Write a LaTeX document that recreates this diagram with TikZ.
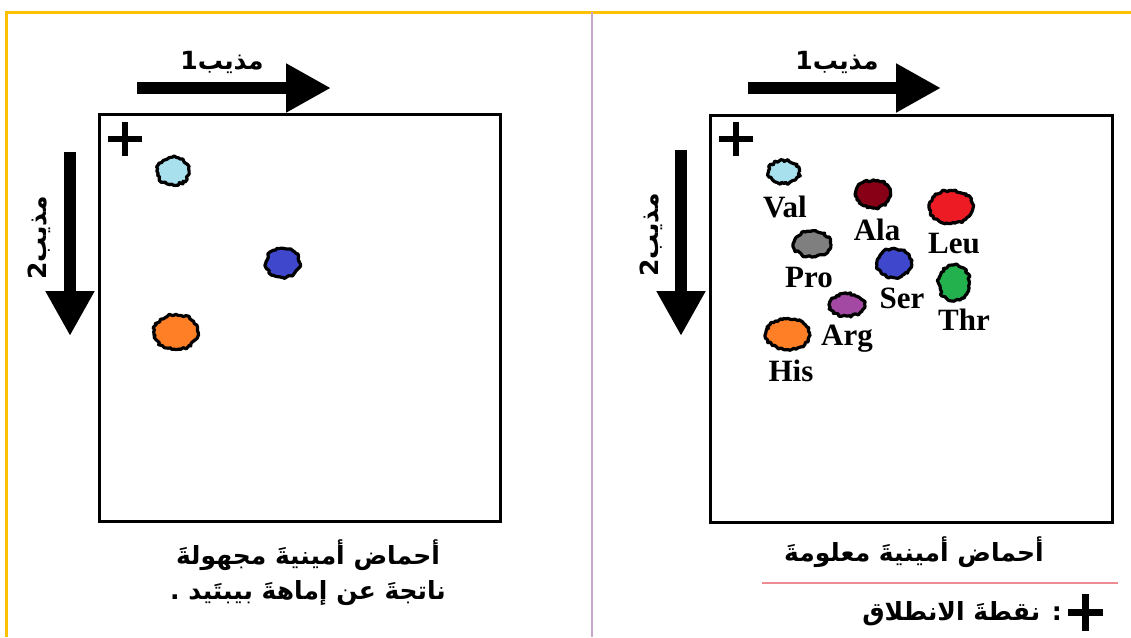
\documentclass[tikz,border=0pt]{standalone}
\usepackage{fontspec}
\setmainfont{Liberation Serif}
\newfontfamily\arabicfont[Script=Arabic]{DejaVu Sans}
\TeXXeTstate=1
\usetikzlibrary{arrows.meta,decorations.pathmorphing,shapes.geometric}
\definecolor{gold}{HTML}{FFC000}
\definecolor{divider}{HTML}{C9A6CC}
\definecolor{pinkline}{HTML}{EE8C96}
\definecolor{cyanspot}{HTML}{A8E0EE}
\definecolor{bluespot}{HTML}{3F48CC}
\definecolor{orangespot}{HTML}{FF7F27}
\definecolor{alaspot}{HTML}{880015}
\definecolor{leuspot}{HTML}{ED1C24}
\definecolor{prospot}{HTML}{7F7F7F}
\definecolor{thrspot}{HTML}{22B14C}
\definecolor{argspot}{HTML}{A349A4}
\begin{document}
\pgfmathsetseed{7}
\begin{tikzpicture}[x=1pt,y=-1pt,
  frame/.style={draw=black,line width=3pt},
  bigarrow/.style={line width=12.5pt,-{Triangle[length=45pt,width=46pt]}},
  solvent/.style={font=\arabicfont\bfseries\fontsize{25}{28}\selectfont,inner sep=0pt},
  caption/.style={font=\arabicfont\bfseries\fontsize{25}{35}\selectfont,inner sep=0pt,align=center},
  blob/.style={ellipse,draw=black,line width=3.2pt,inner sep=0pt,line join=round,
    decorate,decoration={random steps,segment length=2.2pt,amplitude=1.3pt}},
  aa/.style={font=\bfseries\fontsize{31}{34}\selectfont,inner sep=0pt,anchor=base,text=black},
  startmark/.pic={\draw[line width=5.5pt] (-17,0) -- (17,0) (0,-17) -- (0,17);}
]
\useasboundingbox (0,0) rectangle (1131,637);
% page frame
\draw[gold,line width=3pt] (6,637) coordinate (fb) -- (6,12) coordinate (fc) -- (1131,12) coordinate (fr);
\draw[divider,line width=2.5pt] (592,12) coordinate (dt) -- (592,637) coordinate (db);

% ---------- left panel ----------
\coordinate (L1) at (99,114);
\coordinate (L2) at (500,521);
\draw[frame] (L1) rectangle (L2);
\pic at (125,139) {startmark};
\coordinate (la1s) at (137,88);
\coordinate (la1e) at (331,88);
\draw[bigarrow] (la1s) -- (la1e);
\node[solvent] (ls1) at (222,62) {\beginR مذيب1\endR};
\coordinate (la2s) at (70,152);
\coordinate (la2e) at (70,336);
\draw[bigarrow] (la2s) -- (la2e);
\node[solvent,rotate=90] (ls2) at (39,238) {\beginR مذيب2\endR};
\node[blob,fill=cyanspot,minimum width=32pt,minimum height=28pt] (lcy) at (173,171) {};
\node[blob,fill=bluespot,minimum width=34pt,minimum height=29pt] (lbl) at (283,263) {};
\node[blob,fill=orangespot,minimum width=44pt,minimum height=35pt] (lor) at (176,332) {};
\node[caption] (lcap) at (308,573) {\beginR أحماض أمينيةَ مجهولةَ\endR\\\beginR ناتجةَ عن إماهةَ بيبتَيد .\endR};

% ---------- right panel ----------
\coordinate (R1) at (710,115);
\coordinate (R2) at (1112,522);
\draw[frame] (R1) rectangle (R2);
\pic at (736,139) {startmark};
\coordinate (ra1s) at (748,88);
\coordinate (ra1e) at (941,88);
\draw[bigarrow] (ra1s) -- (ra1e);
\node[solvent] (rs1) at (837,62) {\beginR مذيب1\endR};
\coordinate (ra2s) at (681,150);
\coordinate (ra2e) at (681,336);
\draw[bigarrow] (ra2s) -- (ra2e);
\node[solvent,rotate=90] (rs2) at (651,235) {\beginR مذيب2\endR};

\node[blob,fill=cyanspot,minimum width=31pt,minimum height=23pt] (val) at (784,172) {};
\node[blob,fill=alaspot,minimum width=35pt,minimum height=28pt] (ala) at (873,194) {};
\node[blob,fill=leuspot,minimum width=44pt,minimum height=33pt] (leu) at (951,207) {};
\node[blob,fill=prospot,minimum width=37pt,minimum height=26pt] (pro) at (812,244) {};
\node[blob,fill=bluespot,minimum width=34pt,minimum height=29pt] (ser) at (894,263) {};
\node[blob,fill=thrspot,minimum width=31pt,minimum height=36pt] (thr) at (954,283) {};
\node[blob,fill=argspot,minimum width=35pt,minimum height=22pt] (arg) at (847,305) {};
\node[blob,fill=orangespot,minimum width=44pt,minimum height=31pt] (his) at (788,334) {};

\node[aa] (tval) at (785,217) {Val};
\node[aa] (tala) at (877,240) {Ala};
\node[aa] (tleu) at (954,253) {Leu};
\node[aa] (tpro) at (809,287) {Pro};
\node[aa] (tser) at (902,308) {Ser};
\node[aa] (tthr) at (964,330) {Thr};
\node[aa] (targ) at (847,345) {Arg};
\node[aa] (this) at (791,381) {His};

\node[caption] (rcap) at (914,552) {\beginR أحماض أمينيةَ معلومةَ\endR};
\coordinate (pl1) at (762,583);
\coordinate (pl2) at (1118,583);
\draw[pinkline,line width=2pt] (pl1) -- (pl2);
\draw[line width=7pt] (1068,612) coordinate (lgw) -- (1103,612) coordinate (lge)
  (1085.5,594) coordinate (lgn) -- (1085.5,631) coordinate (lgs);
\node[caption,anchor=east] (legend) at (1062,614) {\beginR : نقطةَ الانطلاق\endR};
\end{tikzpicture}
\end{document}
